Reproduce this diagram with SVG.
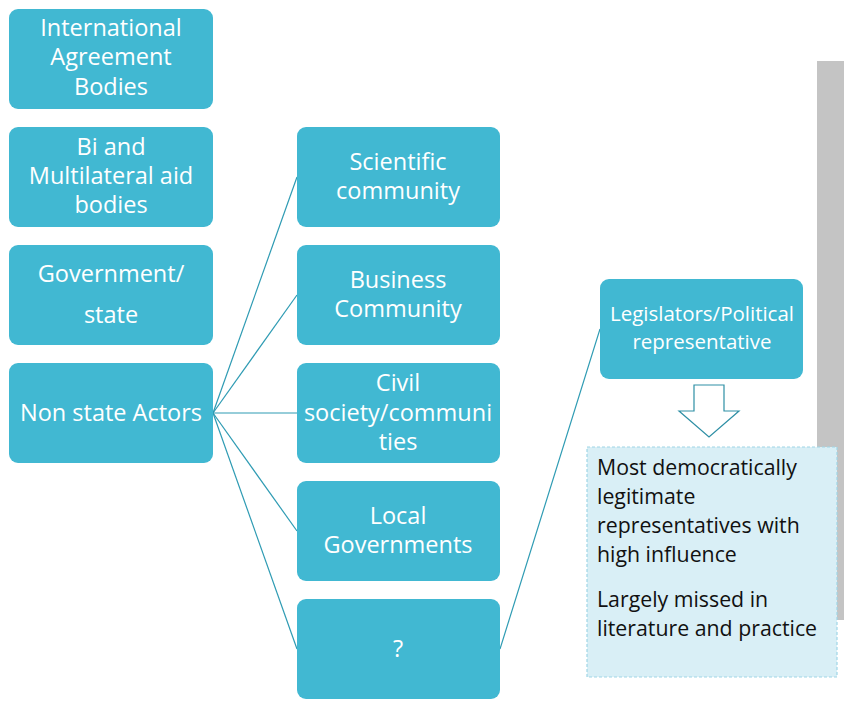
<svg xmlns="http://www.w3.org/2000/svg" width="844" height="702" viewBox="0 0 844 702">
<style>
.box{fill:#41B8D2;}
.t{font-family:"Open Sans","Noto Sans",sans-serif;font-size:23.5px;fill:#ffffff;text-anchor:middle;}
.ts{font-family:"Open Sans","Noto Sans",sans-serif;font-size:20.5px;fill:#ffffff;text-anchor:middle;}
.d{font-family:"Open Sans","Noto Sans",sans-serif;font-size:21.3px;fill:#111111;}
.c{stroke:#2E9BB3;stroke-width:1.2;fill:none;}
</style>
<rect x="817" y="61" width="27" height="559" fill="#C4C4C4"/>
<g id="connectors">
<line class="c" x1="213" y1="413" x2="297" y2="177"/>
<line class="c" x1="213" y1="413" x2="297" y2="295"/>
<line class="c" x1="213" y1="413" x2="297" y2="413"/>
<line class="c" x1="213" y1="413" x2="297" y2="531"/>
<line class="c" x1="213" y1="413" x2="297" y2="649"/>
<line class="c" x1="500" y1="649" x2="600" y2="329"/>
</g>
<g id="n-intl"><rect class="box" x="9" y="9" width="204" height="100" rx="9"/>
<text class="t" x="111" y="36">International</text><text class="t" x="111" y="65">Agreement</text><text class="t" x="111" y="95">Bodies</text></g>
<g id="n-bi"><rect class="box" x="9" y="127" width="204" height="100" rx="9"/>
<text class="t" x="111" y="155">Bi and</text><text class="t" x="111" y="184">Multilateral aid</text><text class="t" x="111" y="213">bodies</text></g>
<g id="n-gov"><rect class="box" x="9" y="245" width="204" height="100" rx="9"/>
<text class="t" x="111" y="282">Government/</text><text class="t" x="111" y="323">state</text></g>
<g id="n-nonstate"><rect class="box" x="9" y="363" width="204" height="100" rx="9"/>
<text class="t" x="111" y="421">Non state Actors</text></g>
<g id="n-sci"><rect class="box" x="297" y="127" width="203" height="100" rx="9"/>
<text class="t" x="398" y="170">Scientific</text><text class="t" x="398" y="199">community</text></g>
<g id="n-bus"><rect class="box" x="297" y="245" width="203" height="100" rx="9"/>
<text class="t" x="398" y="288">Business</text><text class="t" x="398" y="317">Community</text></g>
<g id="n-civil"><rect class="box" x="297" y="363" width="203" height="100" rx="9"/>
<text class="t" x="398" y="391">Civil</text><text class="t" x="398" y="421">society/communi</text><text class="t" x="398" y="450">ties</text></g>
<g id="n-local"><rect class="box" x="297" y="481" width="203" height="100" rx="9"/>
<text class="t" x="398" y="524">Local</text><text class="t" x="398" y="553">Governments</text></g>
<g id="n-q"><rect class="box" x="297" y="599" width="203" height="100" rx="9"/>
<text class="t" x="398" y="657">?</text></g>
<g id="n-leg"><rect class="box" x="600" y="279" width="203" height="100" rx="9"/>
<text class="ts" x="702" y="321">Legislators/Political</text><text class="ts" x="702" y="349">representative</text></g>
<g id="arrow"><polygon points="694,385 724,385 724,411 739,411 709,437 679,411 694,411" fill="#ffffff" stroke="#2E8FA5" stroke-width="1.2"/></g>
<g id="n-desc"><rect x="587" y="447" width="250" height="230" fill="#D9EFF6" stroke="#9FD6E6" stroke-width="1.2" stroke-dasharray="3,2"/>
<text class="d" x="597" y="475">Most democratically</text>
<text class="d" x="597" y="504">legitimate</text>
<text class="d" x="597" y="533">representatives with</text>
<text class="d" x="597" y="562">high influence</text>
<text class="d" x="597" y="607">Largely missed in</text>
<text class="d" x="597" y="636">literature and practice</text></g>
</svg>
